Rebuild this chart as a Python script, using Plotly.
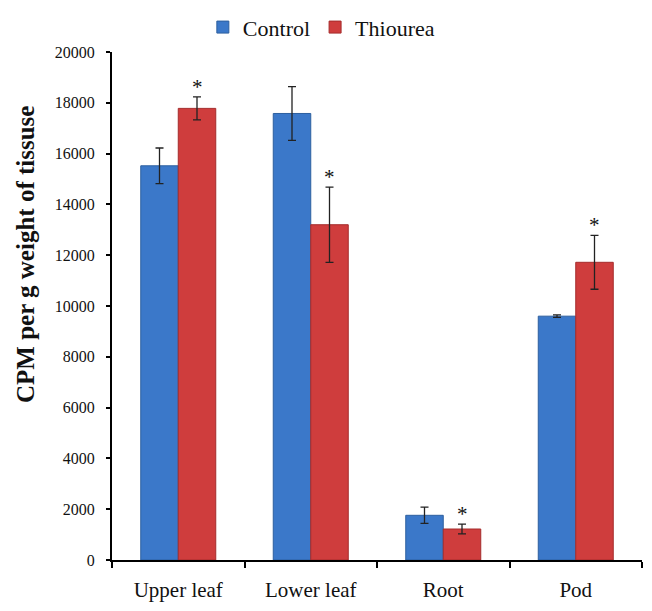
import plotly.graph_objects as go

categories = ["Upper leaf", "Lower leaf", "Root", "Pod"]
control = [15520, 17580, 1760, 9600]
control_err = [700, 1060, 320, 50]
thiourea = [17780, 13200, 1220, 11720]
thiourea_err = [450, 1480, 190, 1060]
significant = [True, True, True, True]
y_title = "CPM per g weight of tissuse"

SERIF = "Liberation Serif"

fig = go.Figure()
fig.add_trace(go.Bar(
    name="Control", x=categories, y=control,
    marker=dict(color="#3b78c9", line=dict(color="#2d5f9f", width=1)),
    error_y=dict(type="data", array=control_err, color="#222222", thickness=1.3, width=4),
))
fig.add_trace(go.Bar(
    name="Thiourea", x=categories, y=thiourea,
    marker=dict(color="#cf3d3d", line=dict(color="#a52c2c", width=1)),
    error_y=dict(type="data", array=thiourea_err, color="#222222", thickness=1.3, width=4),
))

for c, v, e, s in zip(categories, thiourea, thiourea_err, significant):
    if s:
        fig.add_annotation(x=c, y=v + e, text="*", showarrow=False, xshift=19,
                           yanchor="bottom", yshift=-4,
                           font=dict(family=SERIF, size=21, color="#111111"))

# y-axis title as a rotated annotation (positioned like the reference)
fig.add_annotation(x=-0.1645, y=0.602, xref="paper", yref="paper",
                   xanchor="center", yanchor="middle", textangle=-90,
                   text="<b>" + y_title + "</b>", showarrow=False,
                   font=dict(family=SERIF, size=25, color="#111111"))

fig.update_layout(
    width=636, height=595,
    margin=dict(l=104, r=2, t=44, b=43, autoexpand=False),
    paper_bgcolor="white", plot_bgcolor="white",
    barmode="group", bargap=0.434, bargroupgap=0,
    font=dict(family=SERIF, color="#111111"),
    legend=dict(orientation="h", x=0.395, xanchor="center", y=1.09, yanchor="top",
                font=dict(family=SERIF, size=22),
                traceorder="normal", itemwidth=30),
    xaxis=dict(showline=True, linecolor="black", linewidth=2, ticks="outside",
               tickson="boundaries", tickcolor="black", tickwidth=2, ticklen=6,
               ticklabelstandoff=10,
               tickfont=dict(family=SERIF, size=21), showgrid=False, automargin=False),
    yaxis=dict(range=[0, 20000], dtick=2000, tickformat="d", showline=True,
               linecolor="black", linewidth=2,
               ticks="outside", tickcolor="black", tickwidth=2, ticklen=4,
               ticklabelstandoff=8,
               tickfont=dict(family=SERIF, size=16), showgrid=False, zeroline=False,
               automargin=False),
)

fig.write_html("out.html")
